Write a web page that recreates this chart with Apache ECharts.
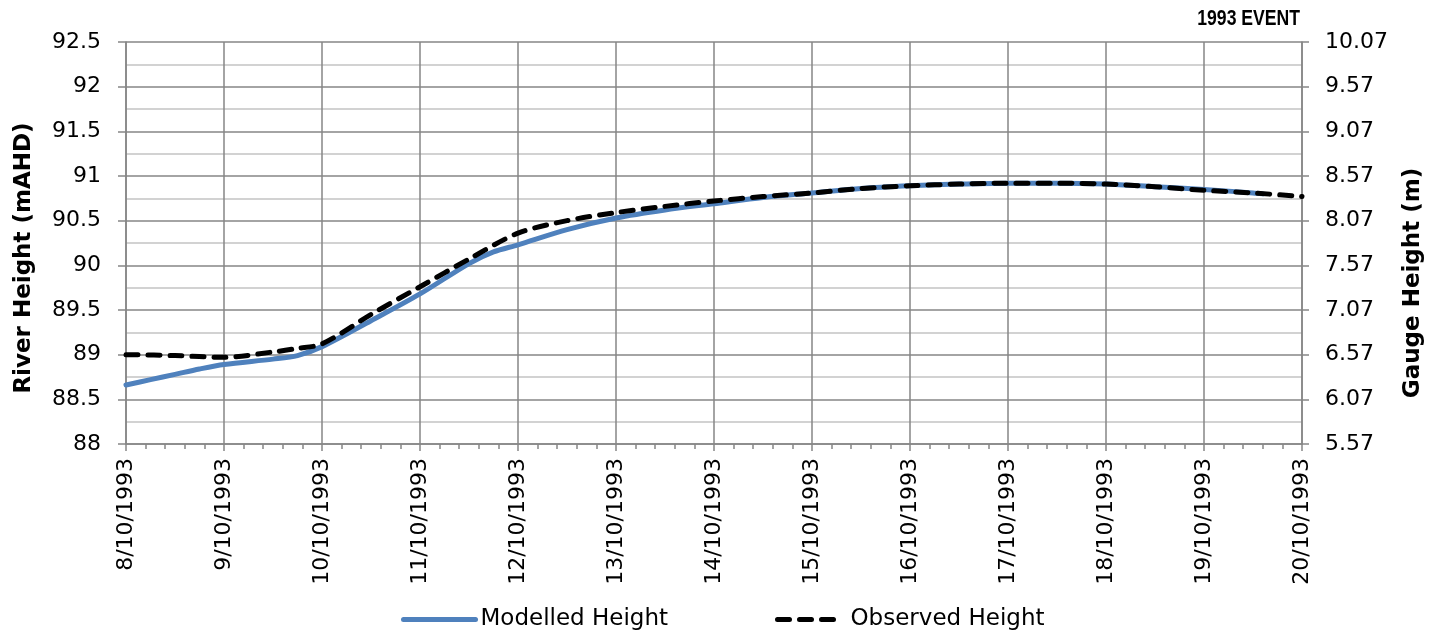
<!DOCTYPE html>
<html>
<head>
<meta charset="utf-8">
<script src="https://cdn.jsdelivr.net/npm/echarts@6/dist/echarts.min.js"></script>
<style>html,body{margin:0;padding:0;background:#fff;}#c{width:1442px;height:632px;}</style>
</head>
<body>
<div id="c"></div>
<script>
// Day offsets from 8/10/1993
const modelledDays = [0, 0.25, 0.5, 0.75, 1, 1.5, 1.75, 2, 2.5, 3, 3.5, 3.75, 4, 4.5, 5, 5.5, 6, 6.5, 7, 7.5, 8, 8.5, 9, 9.5, 10, 10.5, 11, 11.5, 11.6];
const modelledHeight = [88.66, 88.72, 88.78, 88.84, 88.89, 88.95, 88.99, 89.09, 89.38, 89.68, 90.02, 90.15, 90.23, 90.40, 90.53, 90.62, 90.69, 90.76, 90.81, 90.86, 90.89, 90.91, 90.92, 90.92, 90.91, 90.88, 90.85, 90.81, 90.80];
const observedDays = [0, 0.5, 1, 1.5, 1.75, 2, 2.5, 3, 3.5, 4, 4.5, 5, 5.5, 6, 6.5, 7, 7.5, 8, 8.5, 9, 9.5, 10, 10.5, 11, 11.5, 12];
const observedHeight = [89.00, 88.99, 88.97, 89.03, 89.07, 89.12, 89.45, 89.76, 90.07, 90.36, 90.50, 90.59, 90.66, 90.72, 90.77, 90.81, 90.86, 90.89, 90.91, 90.92, 90.92, 90.91, 90.88, 90.84, 90.81, 90.77];
const dateLabels = ['8/10/1993','9/10/1993','10/10/1993','11/10/1993','12/10/1993','13/10/1993','14/10/1993','15/10/1993','16/10/1993','17/10/1993','18/10/1993','19/10/1993','20/10/1993'];
const gaugeOffset = 5.57; // right axis labels 5.57 .. 10.07

const FONT = 'DejaVu Sans';
const chart = echarts.init(document.getElementById('c'), null, {renderer: 'canvas'});
const gridColor = '#868686';

chart.setOption({
  animation: false,
  backgroundColor: '#fff',
  textStyle: {fontFamily: FONT, color: '#000'},
  grid: {left: 126, right: 140, top: 42, bottom: 188, containLabel: false},
  legend: [
    {data: ['Modelled Height'], left: 396, top: 603, itemWidth: 72, itemHeight: 14, itemGap: 0,
     itemStyle: {opacity: 0}, lineStyle: {width: 5},
     textStyle: {fontFamily: FONT, fontSize: 23, color: '#000'}},
    {data: ['Observed Height'], left: 770, top: 603, itemWidth: 58, itemHeight: 14, itemGap: 0,
     itemStyle: {opacity: 0}, lineStyle: {width: 5},
     textStyle: {fontFamily: FONT, fontSize: 23, color: '#000', padding: [0, 0, 0, 10]}}
  ],
  xAxis: {
    type: 'value', min: 0, max: 12, interval: 1,
    axisLine: {show: true, lineStyle: {color: gridColor, width: 1.5}},
    axisTick: {show: true, length: 7, lineStyle: {color: gridColor, width: 1.5}},
    minorTick: {show: true, splitNumber: 5, length: 5, lineStyle: {color: gridColor, width: 1.5}},
    splitLine: {show: true, lineStyle: {color: gridColor, width: 1.5}},
    axisLabel: {rotate: 90, margin: 14, fontSize: 22, color: '#000', fontFamily: FONT,
      formatter: v => dateLabels[Math.round(v)]}
  },
  yAxis: [
    {
      type: 'value', min: 88, max: 92.5, interval: 0.5, position: 'left',
      axisLine: {show: true, lineStyle: {color: gridColor, width: 1.5}},
      axisTick: {show: true, length: 8, lineStyle: {color: gridColor, width: 1.5}},
      splitLine: {show: true, lineStyle: {color: gridColor, width: 1.5}},
      minorTick: {show: false, splitNumber: 2},
      minorSplitLine: {show: true, lineStyle: {color: '#c4c4c4', width: 1.5}},
      axisLabel: {margin: 25, fontSize: 22, color: '#000', fontFamily: FONT,
        formatter: v => String(Math.round(v * 10) / 10)}
    },
    {
      type: 'value', min: 0, max: 4.5, interval: 0.5, position: 'right',
      axisLine: {show: true, lineStyle: {color: gridColor, width: 1.5}},
      axisTick: {show: true, length: 7, lineStyle: {color: gridColor, width: 1.5}},
      splitLine: {show: false},
      axisLabel: {margin: 23, fontSize: 22, color: '#000', fontFamily: FONT,
        formatter: v => (v + gaugeOffset).toFixed(2)}
    }
  ],
  graphic: [
    {type: 'text', x: 24, y: 258, rotation: Math.PI / 2,
     style: {text: 'River Height (mAHD)', fontFamily: FONT, fontWeight: 'bold', fontSize: 23,
       fill: '#000', align: 'center', verticalAlign: 'middle'}},
    {type: 'text', x: 1413, y: 283, rotation: Math.PI / 2,
     style: {text: 'Gauge Height (m)', fontFamily: FONT, fontWeight: 'bold', fontSize: 23,
       fill: '#000', align: 'center', verticalAlign: 'middle'}},
    {type: 'text', x: 1300, y: 19, scaleX: 0.8,
     style: {text: '1993 EVENT', fontFamily: 'Liberation Sans', fontWeight: 'bold', fontSize: 22,
       fill: '#000', align: 'right', verticalAlign: 'middle'}}
  ],
  series: [
    {
      name: 'Modelled Height', type: 'line', yAxisIndex: 0, symbol: 'none', smooth: 0.3,
      data: modelledDays.map((d, i) => [d, modelledHeight[i]]),
      lineStyle: {color: '#4F81BD', width: 5, cap: 'round'},
      itemStyle: {color: '#4F81BD'}, z: 2
    },
    {
      name: 'Observed Height', type: 'line', yAxisIndex: 0, symbol: 'none', smooth: 0.3,
      data: observedDays.map((d, i) => [d, observedHeight[i]]),
      lineStyle: {color: '#000', width: 5, type: [12, 10], cap: 'round'},
      itemStyle: {color: '#000'}, z: 3
    }
  ]
});
</script>
</body>
</html>
